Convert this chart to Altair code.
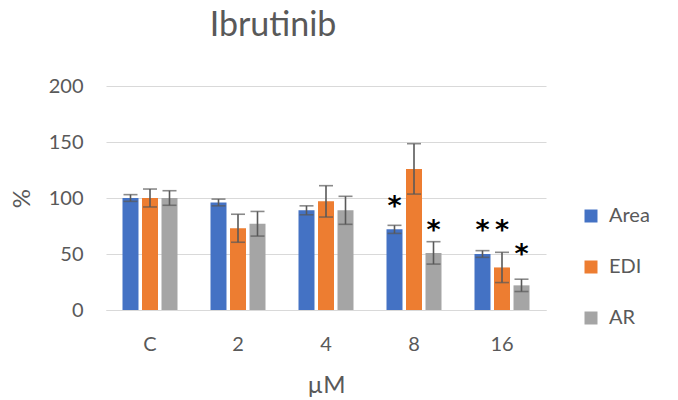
import altair as alt
import pandas as pd

categories = ["C", "2", "4", "8", "16"]
series = ["Area", "EDI", "AR"]
area = [100, 96, 89, 72, 50]
area_err = [3, 3, 4, 3.6, 3]
edi = [100, 73, 97, 126, 38]
edi_err = [8, 12.5, 14, 22.5, 13.5]
ar = [100, 77, 89, 51, 22]
ar_err = [6.5, 11, 12.5, 10, 5.5]
star_cat = ["8", "8", "16", "16", "16"]
star_series = ["Area", "AR", "Area", "EDI", "AR"]
star_y = [99, 78, 78, 78, 56]
colors = ["#4472C4", "#ED7D31", "#A5A5A5"]

FONT = "Lato"
GREY = "#595959"

rows = []
for s, vals, errs in zip(series, [area, edi, ar], [area_err, edi_err, ar_err]):
    for c, v, e in zip(categories, vals, errs):
        rows.append({"cat": c, "series": s, "value": v, "lo": v - e, "hi": v + e})
df = pd.DataFrame(rows)
stars = pd.DataFrame({"cat": star_cat, "series": star_series, "y": star_y})

x = alt.X("cat:N", sort=categories,
          scale=alt.Scale(domain=categories, paddingInner=0.375, paddingOuter=0.1875),
          axis=alt.Axis(title="µM", labelAngle=0, ticks=False, domainColor="#D9D9D9",
                        labelPadding=24, titlePadding=19, titleFontSize=24,
                        labelFontSize=20))
xo = alt.XOffset("series:N", sort=series,
                 scale=alt.Scale(domain=series, paddingInner=0.18, paddingOuter=0))
y = alt.Y("value:Q", scale=alt.Scale(domain=[0, 200], nice=False),
          axis=alt.Axis(title="%", values=[0, 50, 100, 150, 200], ticks=False, domain=False,
                        gridColor="#D9D9D9", labelPadding=23, titlePadding=14,
                        titleFontSize=24, labelFontSize=20))

bars = alt.Chart(df).mark_bar().encode(
    x=x, xOffset=xo, y=y,
    color=alt.Color("series:N", sort=series,
                    scale=alt.Scale(domain=series, range=colors),
                    legend=alt.Legend(title=None, orient="none", legendX=475, legendY=120,
                                      symbolType="square", symbolSize=169,
                                      symbolStrokeWidth=0, labelFontSize=20,
                                      rowPadding=31, labelOffset=8))
)

rule = alt.Chart(df).mark_rule(color=GREY, strokeWidth=1.6).encode(
    x=x, xOffset=xo, y=alt.Y("lo:Q"), y2="hi:Q")
cap_lo = alt.Chart(df).mark_tick(color=GREY, thickness=1.6, size=14).encode(
    x=x, xOffset=xo, y=alt.Y("lo:Q"))
cap_hi = alt.Chart(df).mark_tick(color=GREY, thickness=1.6, size=14).encode(
    x=x, xOffset=xo, y=alt.Y("hi:Q"))

star_marks = alt.Chart(stars).mark_text(text="*", fontSize=27, color="black",
                                        fontWeight="bold",
                                        baseline="alphabetic", dy=16,
                                        font="DejaVu Sans").encode(
    x=x, xOffset=xo, y=alt.Y("y:Q"))

chart = alt.layer(bars, rule, cap_lo, cap_hi, star_marks).properties(
    width=440, height=224,
    title=alt.TitleParams("Ibrutinib", fontSize=34, font=FONT, color=GREY,
                          fontWeight="normal", anchor="middle", dx=-53, offset=33),
    autosize=alt.AutoSizeParams(type="none"),
    padding={"left": 106, "top": 86, "right": 132, "bottom": 90},
).configure_view(stroke=None).configure_axis(
    labelFont=FONT, titleFont=FONT, labelColor=GREY, titleColor=GREY,
    titleFontWeight="normal"
).configure_legend(labelFont=FONT, labelColor=GREY)

chart.save("out.html", embed_options={"renderer": "svg", "actions": False})
